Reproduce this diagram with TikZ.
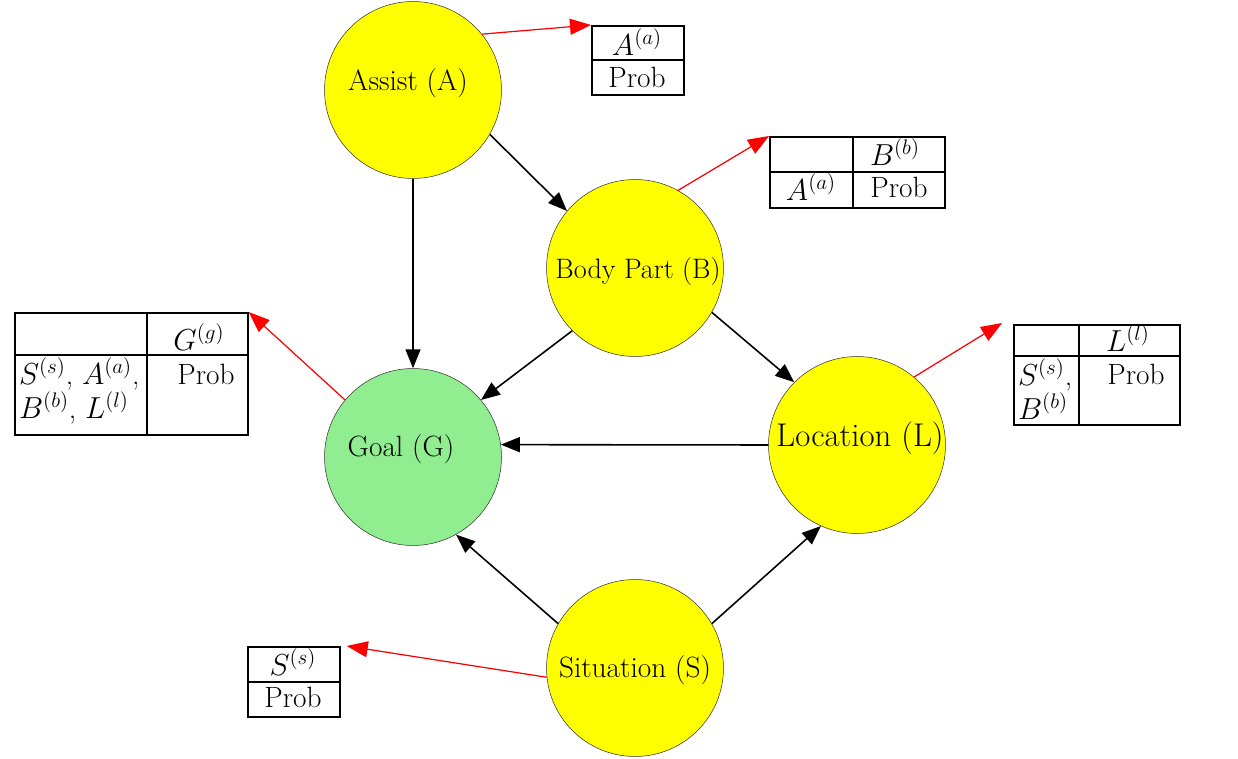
\documentclass[tikz,border=0pt]{standalone}
\usepackage{amsmath,amssymb}
\usepackage{xcolor}
\usetikzlibrary{arrows.meta,positioning}
\definecolor{goalgreen}{RGB}{144,238,144}
\definecolor{varyellow}{RGB}{255,255,0}

\begin{document}
\begin{tikzpicture}[x=0.02cm,y=-0.02cm,
  font=\fontsize{16.7}{19}\selectfont,
  var/.style={circle,draw=black!80,line width=0.3pt,fill=varyellow,minimum size=3.54cm,inner sep=0pt},
  dep/.style={-{Triangle[length=3.8mm,width=3mm]},line width=0.9pt},
  cpt/.style={-{Triangle[length=4.2mm,width=3.2mm]},red,line width=0.7pt},
  tab/.style={draw,line width=1pt,inner sep=0pt,anchor=north west}]
\useasboundingbox (0,0) rectangle (1238,759);

% variables
\node[var] (A) at (413,90) {};
\node[var] (B) at (635,268) {};
\node[var,fill=goalgreen] (G) at (413,457) {};
\node[var] (L) at (857,445) {};
\node[var] (S) at (635,668) {};
\node (Atxt) at (408,83) {Assist (A)};
\node[font=\fontsize{16}{19}\selectfont] (Btxt) at (638,271) {Body Part (B)};
\node (Gtxt) at (401,449) {Goal (G)};
\node[font=\fontsize{18.7}{22}\selectfont] (Ltxt) at (860,438) {Location (L)};
\node (Stxt) at (635,670) {Situation (S)};

% dependencies
\draw[dep] (A.270) -- (G.90);
\draw[dep] (A.330) -- (B.140);
\draw[dep] (B.225) -- (G.40);
\draw[dep] (B.330) -- (L.135);
\draw[dep] (L.180) -- (G.8);
\draw[dep] (S.150) -- (G.299);
\draw[dep] (S.30) -- (L.246);

% probability tables
\node[tab,minimum width=1.84cm,minimum height=1.38cm] (tA) at (591,25) {};
\draw[line width=1pt] (tA.west) -- (tA.east);
\node (tAv) at (637,42) {$A^{(a)}$};
\node (tAp) at (637,77) {Prob};

\node[tab,minimum width=3.5cm,minimum height=1.42cm] (tB) at (769,136) {};
\draw[line width=1pt] (tB.west) -- (tB.east);
\draw[line width=1pt] (tB.north west) ++(84,0) -- ++(0,71);
\node (tBv) at (895,152) {$B^{(b)}$};
\node (tBc) at (811,187) {$A^{(a)}$};
\node (tBp) at (899,187) {Prob};

\node[tab,minimum width=4.66cm,minimum height=2.44cm] (tG) at (14,312) {};
\draw[line width=1pt] (tG.north west) ++(0,43) -- ++(233,0);
\draw[line width=1pt] (tG.north west) ++(133,0) -- ++(0,122);
\node (tGv) at (199,337) {$G^{(g)}$};
\node[anchor=north west,align=left,inner sep=1pt] (tGc) at (17,356) {$S^{(s)}$, $A^{(a)}$,\\ $B^{(b)}$, $L^{(l)}$};
\node (tGp) at (206,374) {Prob};

\node[tab,minimum width=3.32cm,minimum height=2cm] (tL) at (1013,324) {};
\draw[line width=1pt] (tL.north west) ++(0,32) -- ++(166,0);
\draw[line width=1pt] (tL.north west) ++(66,0) -- ++(0,100);
\node (tLv) at (1128,338) {$L^{(l)}$};
\node[anchor=north west,align=left,inner sep=1pt] (tLc) at (1016,357) {$S^{(s)}$,\\ $B^{(b)}$};
\node (tLp) at (1136,374) {Prob};

\node[tab,minimum width=1.84cm,minimum height=1.4cm] (tS) at (247,646) {};
\draw[line width=1pt] (tS.west) -- (tS.east);
\node (tSv) at (293,662) {$S^{(s)}$};
\node (tSp) at (293,697) {Prob};

% links to tables
\draw[cpt] (A.39) -- (tA.north west);
\draw[cpt] (B.61) -- (tB.north west);
\draw[cpt] (G.140) -- (tG.north east);
\draw[cpt] (L.50) -- ([shift={(-11,-1)}]tL.north west);
\draw[cpt] (S.186) -- ([shift={(6,0)}]tS.north east);
\end{tikzpicture}
\end{document}
